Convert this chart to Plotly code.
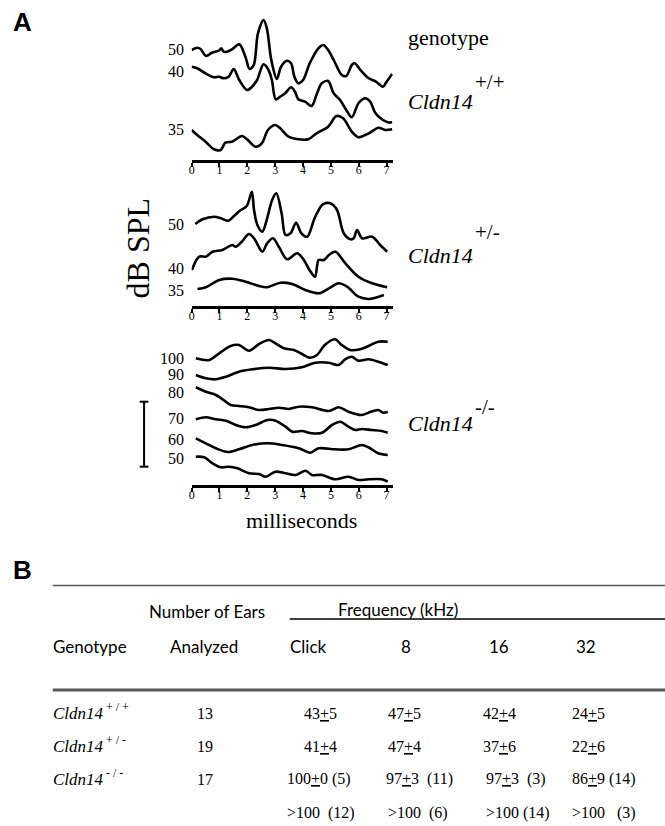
import plotly.graph_objects as go

W, H = 665, 826
SERIF = "Liberation Serif"
SANS = "Lato"


def px(x):
    return x / W


def py(y):
    return 1 - y / H


# ---------------- Panel A data (ABR waveforms, amplitude in arbitrary display units) -------------
# Cldn14 +/+
wt_t50 = [0, 0.2, 0.32, 0.52, 0.73, 0.98, 1.06, 1.15, 1.27, 1.45, 1.71, 1.93, 2.08, 2.23, 2.38, 2.58, 2.7, 2.86,
          3.06, 3.21, 3.42, 3.57, 3.69, 3.83, 4.0, 4.24, 4.55, 4.73, 4.9, 5.1, 5.39, 5.55, 5.75, 5.85, 6.06, 6.36,
          6.62, 6.87, 7.0, 7.2]
wt_a50 = [110, 112.3, 111, 104, 107.3, 109.3, 111.7, 108.3, 108.3, 110.7, 115.7, 103.3, 91, 95, 126.7, 140, 131.7,
          100, 81, 93.3, 99.3, 96.7, 83.3, 76.7, 80, 96.7, 111.7, 115, 110, 100, 85, 84, 95, 96.7, 90, 81.7, 78.3,
          73.3, 78.3, 86]
wt_t40 = [0, 0.2, 0.5, 0.8, 0.98, 1.15, 1.33, 1.51, 1.71, 1.99, 2.17, 2.35, 2.58, 2.76, 2.88, 3.02, 3.18, 3.36, 3.57,
          3.71, 3.83, 4.07, 4.31, 4.48, 4.67, 4.9, 5.1, 5.33, 5.55, 5.75, 5.99, 6.23, 6.41, 6.59, 6.83, 7.04, 7.2]
wt_a40 = [93.3, 91.7, 86.7, 82.7, 83.3, 81.7, 83.3, 91, 80, 70, 73.3, 80, 95.7, 90, 80, 60.7, 63.3, 66.7, 72.7, 68.3,
          60.7, 58.3, 54, 65, 76.7, 79, 66.7, 60, 50, 42.7, 56.7, 61.7, 58.3, 47.3, 40.7, 37.7, 37.7]
wt_t35 = [0, 0.2, 0.5, 0.8, 1.04, 1.21, 1.45, 1.81, 1.99, 2.29, 2.52, 2.74, 3.0, 3.18, 3.48, 3.83, 4.19, 4.48, 4.9,
          5.2, 5.44, 5.75, 5.99, 6.36, 6.71, 6.95, 7.2]
wt_a35 = [30, 25, 18.3, 10.7, 10, 17.3, 18.3, 24, 20.7, 13.3, 16.7, 30, 35, 31.7, 23.3, 20.7, 20.7, 26.7, 33.3, 44,
          41.7, 28.3, 22.7, 26.7, 32.3, 30, 30.7]

# Cldn14 +/-
het_t50 = [0.13, 0.39, 0.81, 1.05, 1.32, 1.52, 1.73, 1.98, 2.16, 2.24, 2.36, 2.54, 2.71, 2.89, 3.04, 3.23, 3.37,
           3.55, 3.75, 3.94, 4.15, 4.39, 4.51, 4.71, 4.98, 5.22, 5.46, 5.7, 5.82, 5.94, 6.12, 6.48, 6.77, 7.02]
het_a50 = [82, 86.7, 89.3, 87.7, 85.3, 90, 95.3, 100, 114.3, 96, 81, 74.3, 87.7, 106, 112.7, 92.7, 71, 72.7, 83.3,
           72.7, 69.3, 86, 93.3, 101.7, 102.7, 96, 72.7, 66.7, 67.7, 76, 67.7, 69.3, 61, 54.3]
het_t40 = [0.01, 0.27, 0.51, 0.75, 1.1, 1.46, 1.58, 1.8, 2.06, 2.24, 2.54, 2.71, 2.92, 3.13, 3.43, 3.79, 4.03, 4.23,
           4.43, 4.56, 4.75, 4.93, 5.16, 5.52, 5.99, 6.48, 7.02]
het_a40 = [36, 49.3, 49.3, 54.3, 56, 61, 59.3, 64.3, 72, 67.7, 54.3, 62.7, 67.7, 59.3, 46.7, 52.7, 46, 36, 29.3, 46,
           46, 51, 54.3, 42.7, 29.3, 22.7, 18.7]
het_t35 = [0.21, 0.51, 0.99, 1.46, 1.94, 2.66, 3.19, 3.61, 4.08, 4.56, 4.93, 5.28, 5.58, 5.99, 6.36, 6.9]
het_a35 = [17, 18.7, 26, 27.3, 24.3, 18.7, 23.3, 22, 16, 12.7, 17.7, 22.7, 19.3, 9.3, 7, 11]

# Cldn14 -/-
ko_t100 = [0.15, 0.63, 0.99, 1.4, 1.7, 2.06, 2.42, 2.78, 3.01, 3.31, 3.67, 3.96, 4.26, 4.5, 4.78, 5.15, 5.39, 5.69,
           6.05, 6.35, 6.7, 7.04]
ko_a100 = [126.7, 125, 131.7, 139, 140, 134.3, 141, 145, 141.7, 136.7, 135, 131, 127.3, 130, 140, 145.7, 140, 135,
           135.7, 139, 143.3, 143.3]
ko_t90 = [0.15, 0.51, 0.87, 1.23, 1.7, 2.18, 2.78, 3.37, 3.96, 4.44, 4.92, 5.28, 5.51, 5.75, 5.99, 6.35, 6.7, 7.04]
ko_a90 = [110, 106.7, 105.7, 108.3, 113.3, 115.7, 117.3, 116, 117.7, 122.3, 122.3, 120, 125.7, 128.3, 124.3, 125.7,
          123.3, 120]
ko_t80 = [0.15, 0.51, 0.87, 1.11, 1.4, 1.7, 2.06, 2.42, 2.78, 3.13, 3.49, 3.85, 4.32, 4.92, 5.28, 5.63, 6.11, 6.35,
          6.7, 6.88, 7.04]
ko_a80 = [97.7, 93.3, 90, 85.7, 80, 79, 77.7, 75, 76, 77.3, 76, 78.3, 77.7, 74, 77.7, 73.3, 70, 72.3, 75, 72.3, 73.3]
ko_t70 = [0.15, 0.51, 0.87, 1.23, 1.58, 1.94, 2.3, 2.72, 3.01, 3.37, 3.61, 3.96, 4.32, 4.68, 5.04, 5.34, 5.63, 5.87,
          6.11, 6.46, 6.82, 7.04]
ko_a70 = [65.7, 67.7, 65.7, 64.3, 60, 57.7, 60, 65, 64.3, 58.3, 53.3, 54, 51.7, 52.3, 60, 63.3, 58.3, 55, 56, 55, 54,
          52.3]
ko_t60 = [0.15, 0.51, 0.87, 1.29, 1.7, 2.18, 2.72, 3.25, 3.85, 4.26, 4.56, 5.15, 5.63, 6.11, 6.35, 6.7, 7.04]
ko_a60 = [46.7, 41.7, 36.7, 33, 35.7, 40, 41.7, 40, 36.7, 32.3, 36.7, 35.7, 35.7, 40, 37.7, 31.7, 30]
ko_t50 = [0.15, 0.45, 0.75, 1.05, 1.34, 1.64, 2.06, 2.42, 2.66, 3.01, 3.37, 3.73, 4.09, 4.32, 4.68, 5.15, 5.63, 5.99,
          6.35, 6.82, 7.04]
ko_a50 = [28.3, 27.7, 21.7, 17.7, 18.3, 16.7, 11.7, 11, 8.3, 13.3, 11.7, 10, 14.3, 10, 10, 5.7, 8.3, 5, 5.7, 5.7, 3.3]

wt_levels = ["50", "40", "35"]
het_levels = ["50", "40", "35"]
ko_levels = ["100", "90", "80", "70", "60", "50"]
ms_ticks = [0, 1, 2, 3, 4, 5, 6, 7]
scale_bar = [18.3, 83.3]

# ---------------- Panel B data (table) ----------------
genotype_sup = ["+/+", "+/-", "-/-"]
n_ears = ["13", "19", "17"]
freq_headers = ["Click", "8", "16", "32"]
row_wt = ["43<u>+</u>5", "47<u>+</u>5", "42<u>+</u>4", "24<u>+</u>5"]
row_het = ["41<u>+</u>4", "47<u>+</u>4", "37<u>+</u>6", "22<u>+</u>6"]
row_ko = ["100<u>+</u>0 (5)", "97<u>+</u>3  (11)", "97<u>+</u>3  (3)", "86<u>+</u>9 (14)"]
row_ko_gt = [">100  (12)", ">100  (6)", ">100 (14)", ">100   (3)"]

fig = go.Figure()

panels = [
    ("x", "y", [(wt_t50, wt_a50), (wt_t40, wt_a40), (wt_t35, wt_a35)], wt_levels, [0, -5, 0]),
    ("x2", "y2", [(het_t50, het_a50), (het_t40, het_a40), (het_t35, het_a35)], het_levels, [0, 2, -1]),
    ("x3", "y3", [(ko_t100, ko_a100), (ko_t90, ko_a90), (ko_t80, ko_a80), (ko_t70, ko_a70),
                  (ko_t60, ko_a60), (ko_t50, ko_a50)], ko_levels, [0, 0, -5, 1, -1, -2]),
]

annotations = []
for xa, ya, traces, levels, nudges in panels:
    for (t, a), lev, nd in zip(traces, levels, nudges):
        fig.add_trace(go.Scatter(x=t, y=a, xaxis=xa, yaxis=ya, mode="lines",
                                 line=dict(color="black", width=2.6, shape="spline", smoothing=0.9),
                                 showlegend=False, hoverinfo="skip", cliponaxis=False))
        annotations.append(dict(x=px(183), xref="paper", y=a[0] + nd, yref=ya, text=lev, showarrow=False,
                                xanchor="right", yanchor="middle", borderpad=0,
                                font=dict(family=SERIF, size=16, color="black")))

# panel geometry (pixel positions of top / axis line)
geom = [(5, 160), (180, 306), (330, 485)]
axis_common = dict(range=[0, 7.22], domain=[px(189.5), px(391.5)], showline=True, linecolor="black", linewidth=2.5,
                   ticks="outside", ticklen=4, tickwidth=1.5, tickcolor="black", tickvals=ms_ticks,
                   ticklabelstandoff=-7,
                   tickfont=dict(family=SERIF, size=12, color="black"), showgrid=False, zeroline=False,
                   fixedrange=True)
layout_axes = {}
for i, (top, bot) in enumerate(geom):
    sx = "" if i == 0 else str(i + 1)
    layout_axes["xaxis" + sx] = dict(axis_common, anchor="y" + sx)
    layout_axes["yaxis" + sx] = dict(range=[0, bot - top], domain=[py(bot), py(top)], visible=False,
                                     anchor="x" + sx, fixedrange=True)

shapes = []
# scale bar in knockout panel
shapes.append(dict(type="line", xref="paper", yref="y3", x0=px(141.7), x1=px(141.7), y0=scale_bar[0],
                   y1=scale_bar[1], line=dict(color="black", width=2)))
for v in scale_bar:
    shapes.append(dict(type="line", xref="paper", yref="y3", x0=px(137.3), x1=px(146), y0=v, y1=v,
                       line=dict(color="black", width=2)))

# table rules
shapes.append(dict(type="line", xref="paper", yref="paper", x0=px(50), x1=1, y0=py(585.5), y1=py(585.5),
                   line=dict(color="#555555", width=1.3)))
shapes.append(dict(type="line", xref="paper", yref="paper", x0=px(288), x1=1, y0=py(619), y1=py(619),
                   line=dict(color="black", width=1.4)))
shapes.append(dict(type="line", xref="paper", yref="paper", x0=px(50), x1=1, y0=py(690), y1=py(690),
                   line=dict(color="#555555", width=3)))


def ann(x, y, text, size, family=SERIF, xanchor="center", color="black", **kw):
    annotations.append(dict(x=px(x), y=py(y), xref="paper", yref="paper", text=text, showarrow=False,
                            xanchor=xanchor, yanchor="middle", font=dict(family=family, size=size, color=color),
                            **kw))


# panel letters
ann(20, 22, "<b>A</b>", 26, family="Liberation Sans")
ann(20, 570, "<b>B</b>", 26, family="Liberation Sans")

# panel A texts
ann(136, 248, "dB SPL", 32, textangle=-90)
ann(300, 520, "milliseconds", 22)
ann(405, 37, "genotype", 22, xanchor="left")
geno_pos = [(101, 82), (255, 232), (423, 407)]
for sup, (ym, ys) in zip(genotype_sup, geno_pos):
    ann(405, ym, "<i>Cldn14</i>", 22, xanchor="left")
    ann(472, ys, sup, 21, xanchor="left")

# panel B table header
ann(205, 611, "Number of Ears", 17, family=SANS)
ann(335, 609, "Frequency (kHz)", 17, family=SANS, xanchor="left")
ann(48, 646, "Genotype", 17, family=SANS, xanchor="left")
ann(202, 646, "Analyzed", 17, family=SANS)
hdr_x = [(286, "left"), (405, "center"), (498, "center"), (586, "center")]
for h, (hx, anc) in zip(freq_headers, hdr_x):
    ann(hx, 646, h, 17, family=SANS, xanchor=anc)

row_y = [713, 746, 779, 813]
for sup, n, y in zip(genotype_sup, n_ears, row_y):
    ann(48, y, "<i>Cldn14</i>", 17, xanchor="left")
    ann(101, y - 6, " / ".join(sup.split("/")), 12, xanchor="left")
    ann(203, y, n, 16)

col_x = [[300, 385, 480, 570], [300, 385, 480, 570], [283, 383, 483, 570], [283, 385, 483, 570]]
for row, y, xs in zip([row_wt, row_het, row_ko, row_ko_gt], row_y, col_x):
    for txt, x in zip(row, xs):
        ann(x, y, txt, 16, xanchor="left")

fig.update_layout(width=W, height=H, margin=dict(l=0, r=0, t=0, b=0), paper_bgcolor="white",
                  plot_bgcolor="white", showlegend=False, annotations=annotations, shapes=shapes, **layout_axes)

fig.write_html("out.html", config={"displayModeBar": False},
               post_script="document.body.style.margin='0px';document.body.style.overflow='hidden';")
